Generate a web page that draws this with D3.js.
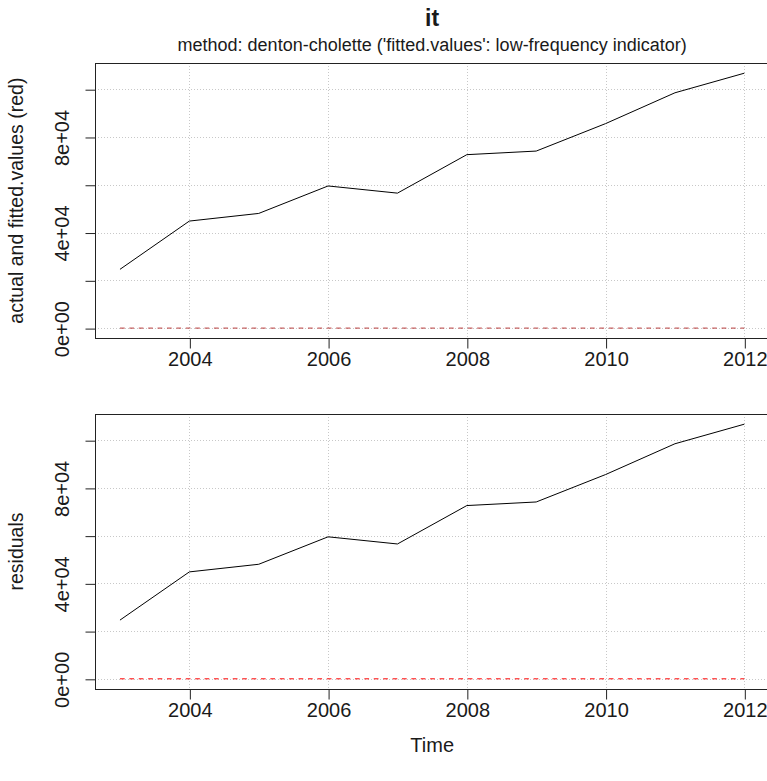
<!DOCTYPE html>
<html>
<head>
<meta charset="utf-8">
<script src="https://cdn.jsdelivr.net/npm/d3@7"></script>
<style>
  html, body { margin: 0; padding: 0; background: #fff; }
  svg { display: block; }
  text { font-family: "Liberation Sans", Arial, sans-serif; fill: #1a1a1a; }
</style>
</head>
<body>
<svg id="chart" width="767" height="781"></svg>
<script>
// ---- data ----
const years = [2003, 2004, 2005, 2006, 2007, 2008, 2009, 2010, 2011, 2012];
const actual = [24600, 44800, 48000, 59500, 56500, 72600, 74100, 85600, 98500, 106700];
const fitted = [0, 0, 0, 0, 0, 0, 0, 0, 0, 0];
const residuals = [24600, 44800, 48000, 59500, 56500, 72600, 74100, 85600, 98500, 106700];
const zeroLine = [0, 0, 0, 0, 0, 0, 0, 0, 0, 0];
const xTicks = [2004, 2006, 2008, 2010, 2012];
const yTicks = [0, 20000, 40000, 60000, 80000, 100000];
const yTickLabels = ["0e+00", "", "4e+04", "", "8e+04", ""];
const titleText = "it";
const subtitleText = "method: denton-cholette ('fitted.values': low-frequency indicator)";
const yLabelTop = "actual and fitted.values (red)";
const yLabelBottom = "residuals";
const xLabel = "Time";

// ---- layout ----
const svg = d3.select("#chart");
const plotLeft = 95, plotRight = 769.3;
const panels = [
  { top: 63, bottom: 338.3, black: actual, red: fitted, redColor: "#b83a3a", ylab: yLabelTop, showTime: false },
  { top: 414, bottom: 689, black: residuals, red: zeroLine, redColor: "#ff0000", ylab: yLabelBottom, showTime: true }
];

const xExt = d3.extent(years);
const xPad = (xExt[1] - xExt[0]) * 0.04;
const x = d3.scaleLinear().domain([xExt[0] - xPad, xExt[1] + xPad]).range([plotLeft, plotRight]);

panels.forEach(p => {
  const all = p.black.concat(p.red);
  const yExt = d3.extent(all);
  const yPad = (yExt[1] - yExt[0]) * 0.04;
  const y = d3.scaleLinear().domain([yExt[0] - yPad, yExt[1] + yPad]).range([p.bottom, p.top]);
  const g = svg.append("g");

  // grid
  const grid = g.append("g").attr("stroke", "#c8c8c8").attr("stroke-width", 1).attr("stroke-dasharray", "1,2");
  xTicks.forEach(t => {
    grid.append("line").attr("x1", Math.round(x(t)) + 0.5).attr("x2", Math.round(x(t)) + 0.5)
      .attr("y1", p.top).attr("y2", p.bottom);
  });
  yTicks.forEach(t => {
    grid.append("line").attr("y1", Math.round(y(t)) + 0.5).attr("y2", Math.round(y(t)) + 0.5)
      .attr("x1", plotLeft).attr("x2", plotRight);
  });

  // red dashed series
  const line = d3.line().x((d, i) => x(years[i])).y(d => y(d));
  g.append("path").datum(p.red).attr("d", line)
    .attr("fill", "none").attr("stroke", p.redColor).attr("stroke-width", 1)
    .attr("stroke-dasharray", "4.7,4.7");

  // black series
  g.append("path").datum(p.black).attr("d", line)
    .attr("fill", "none").attr("stroke", "#000").attr("stroke-width", 1);

  // box
  g.append("rect").attr("x", plotLeft + 0.5).attr("y", Math.round(p.top) + 0.5)
    .attr("width", plotRight - plotLeft).attr("height", Math.round(p.bottom) - Math.round(p.top))
    .attr("fill", "none").attr("stroke", "#222").attr("stroke-width", 1);

  // x axis
  const xAxis = d3.axisBottom(x).tickValues(xTicks).tickFormat(d3.format("d")).tickSize(10).tickPadding(0);
  const xg = g.append("g").attr("transform", `translate(0.5,${Math.round(p.bottom) + 0.5})`).call(xAxis);
  xg.select(".domain").remove();
  xg.selectAll(".tick line").attr("stroke", "#222");
  xg.selectAll(".tick text").attr("y", 0).attr("dy", null)
    .attr("transform", "translate(0,27)")
    .style("font-size", "20px").style("font-family", "'Liberation Sans', Arial, sans-serif").attr("fill", "#1a1a1a");

  // y axis
  const yAxis = d3.axisLeft(y).tickValues(yTicks).tickFormat((d, i) => yTickLabels[i]).tickSize(10).tickPadding(0);
  const yg = g.append("g").attr("transform", `translate(${plotLeft + 0.5},0.5)`).call(yAxis);
  yg.select(".domain").remove();
  yg.selectAll(".tick line").attr("stroke", "#222");
  yg.selectAll(".tick text").attr("x", 0).attr("dy", null)
    .attr("transform", "translate(-27,0) rotate(-90)")
    .attr("text-anchor", "middle")
    .style("font-size", "20px").style("font-family", "'Liberation Sans', Arial, sans-serif").attr("fill", "#1a1a1a");

  // y label
  svg.append("text")
    .attr("transform", `translate(23,${(p.top + p.bottom) / 2}) rotate(-90)`)
    .attr("text-anchor", "middle").style("font-size", "19.5px").text(p.ylab);

  if (p.showTime) {
    svg.append("text").attr("x", (plotLeft + plotRight) / 2).attr("y", 752)
      .attr("text-anchor", "middle").style("font-size", "20px").text(xLabel);
  }
});

// titles
const cx = (plotLeft + plotRight) / 2;
svg.append("text").attr("x", cx).attr("y", 26).attr("text-anchor", "middle")
  .style("font-size", "23px").style("font-weight", "bold").text(titleText);
svg.append("text").attr("x", cx).attr("y", 51).attr("text-anchor", "middle")
  .style("font-size", "18px").text(subtitleText);
</script>
</body>
</html>
